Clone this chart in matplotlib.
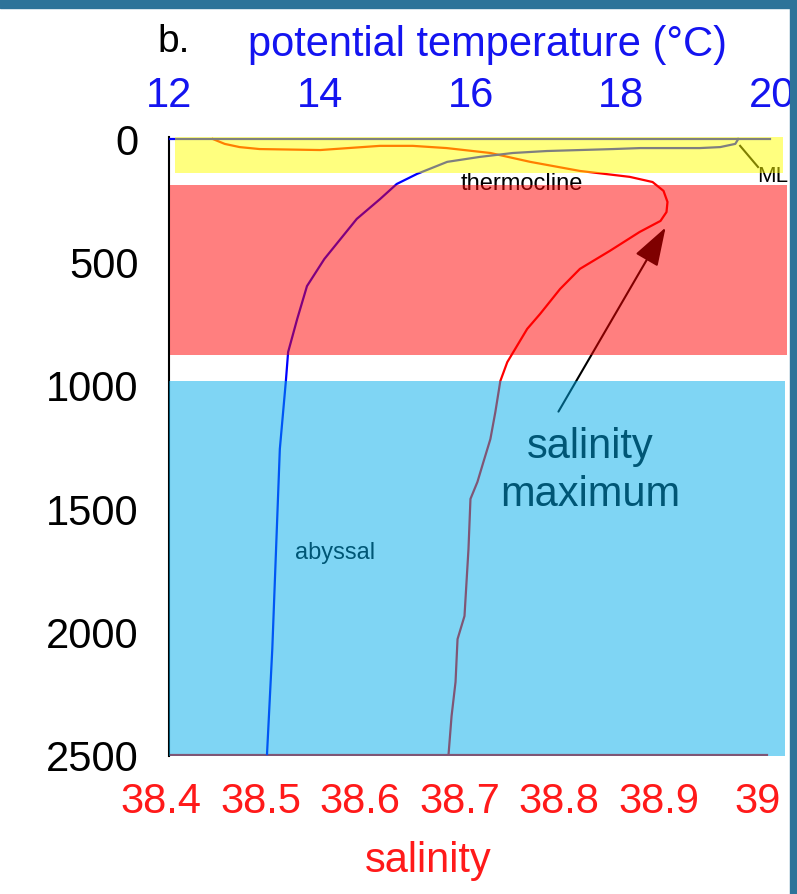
import matplotlib
matplotlib.use("Agg")
import matplotlib.pyplot as plt
from matplotlib.patches import Rectangle

plt.rcParams['font.family'] = ['Liberation Sans', 'DejaVu Sans']

# potential temperature profile (degC vs depth m)
temp = [19.55, 19.51, 19.31, 19.04, 18.25, 17.89, 17.01, 16.56, 16.12, 15.69,
        15.29, 15.02, 14.80, 14.49, 14.06, 13.83, 13.70, 13.58, 13.55, 13.47,
        13.42, 13.37, 13.30]
temp_depth = [0, 20, 33, 37, 37, 41, 49, 57, 73, 93,
              142, 183, 244, 325, 488, 598, 732, 866, 984, 1260,
              1667, 2073, 2500]

# salinity profile
sal = [38.452, 38.464, 38.479, 38.499, 38.560, 38.620, 38.653, 38.687, 38.731,
       38.771, 38.821, 38.871, 38.894, 38.905, 38.909, 38.908, 38.902, 38.881,
       38.851, 38.821, 38.801, 38.781, 38.768, 38.748, 38.741, 38.736, 38.731,
       38.724, 38.718, 38.711, 38.709, 38.705, 38.698, 38.696, 38.692, 38.689]
sal_depth = [0, 20, 33, 41, 45, 28, 28, 37, 57,
             93, 130, 154, 175, 211, 256, 297, 333, 378,
             455, 528, 610, 711, 772, 907, 984, 1110, 1220,
             1313, 1394, 1463, 1667, 1939, 2033, 2207, 2346, 2500]

# layers (depth ranges)
mixed_layer = (-20, 138)
intermediate = (187, 878)
deep = (984, 2520)

sal_ticks = [38.4, 38.5, 38.6, 38.7, 38.8, 38.9, 39.0]
sal_labels = ['38.4', '38.5', '38.6', '38.7', '38.8', '38.9', '39']
temp_ticks = [12, 14, 16, 18, 20]
depth_ticks = [0, 500, 1000, 1500, 2000, 2500]

W, H = 797, 895
fig = plt.figure(figsize=(W / 100, H / 100), dpi=100)
ax = fig.add_axes([161 / W, 1 - 757 / H, 626 / W, 619 / H])

# salinity axis (bottom)
ax.plot(sal, sal_depth, color='#ff0000', lw=1.6, zorder=2)
ax.plot([38.409, 39.009], [2503, 2503], color='#ff0000', lw=1.6, zorder=2)
ax.set_xlim(38.4, 39.0291)
ax.set_ylim(2508, -8)
ax.set_xticks(sal_ticks)
ax.set_xticklabels(sal_labels)
ax.set_yticks(depth_ticks)
ax.tick_params(axis='x', length=0, labelsize=30, labelcolor='#ff1a1a', pad=18)
ax.tick_params(axis='y', length=0, labelsize=30, labelcolor='black', pad=22)
for s in ['top', 'right', 'bottom']:
    ax.spines[s].set_visible(False)
ax.spines['left'].set_position(('data', 38.408))
ax.spines['left'].set_linewidth(1.5)
ax.set_facecolor('none')

# annotations (drawn beneath the translucent layers)
ax.text(38.763, 178, 'thermocline', fontsize=17, ha='center', va='center', color='black')
ax.text(38.575, 1679, 'abyssal', fontsize=17, ha='center', va='center', color='black')
ax.text(38.831, 1345, 'salinity\nmaximum', fontsize=30, ha='center', va='center',
        color='black', linespacing=1.25)
ax.text(39.015, 150, 'ML', fontsize=16, ha='center', va='center', color='black')
ax.plot([38.982, 39.000], [28, 114], color='black', lw=1.5)
ax.annotate('', xy=(38.9085, 350), xytext=(38.798, 1118),
            arrowprops=dict(arrowstyle='-|>,head_length=0.6,head_width=0.2',
                            color='black', lw=1.5, mutation_scale=40))

# temperature axis (top)
ax2 = ax.twiny()
ax2.plot(temp, temp_depth, color='#0000ff', lw=1.6, zorder=2)
ax2.plot([12.01, 19.97], [0, 0], color='#0000ff', lw=1.6, zorder=2)
ax2.set_xlim(11.894, 20.196)
ax2.set_xticks(temp_ticks)
ax2.tick_params(axis='x', length=0, labelsize=30, labelcolor='#1414f0', pad=16)
for s in ax2.spines.values():
    s.set_visible(False)

# translucent layers on top of everything
ax2.axhspan(*mixed_layer, xmin=0.0224, xmax=0.9936, color='#ffff00', alpha=0.5, lw=0, zorder=5)
ax2.axhspan(*intermediate, xmin=0.0144, xmax=1.0, color='#ff0000', alpha=0.5, lw=0, zorder=5)
ax2.axhspan(*deep, xmin=0.0128, xmax=0.9968, color='#00adeb', alpha=0.5, lw=0, zorder=5)

fig.text(487 / W, 1 - 45 / H, 'potential temperature (°C)', fontsize=30,
         color='#1414f0', ha='center', va='center')
fig.text(174 / W, 1 - 42 / H, 'b.', fontsize=28, color='black', ha='center', va='center')
fig.text(428 / W, 1 - 861 / H, 'salinity', fontsize=30, color='#ff1a1a',
         ha='center', va='center')

# frame stripes
fig.patches.append(Rectangle((0, 1 - 9 / H), 1, 9 / H, transform=fig.transFigure,
                             color='#2d7399', zorder=10))
fig.patches.append(Rectangle((790 / W, 0), 7 / W, 1, transform=fig.transFigure,
                             color='#2d7399', zorder=10))

fig.savefig('out.png', dpi=100)
